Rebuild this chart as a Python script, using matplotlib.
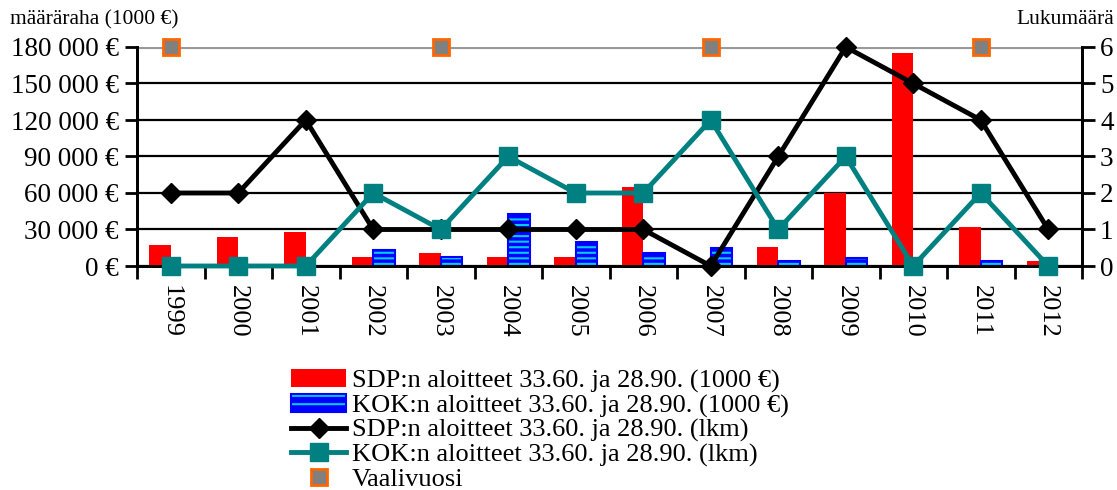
import matplotlib
matplotlib.use("Agg")
import matplotlib.pyplot as plt
import numpy as np
from matplotlib.ticker import FuncFormatter
from matplotlib.patches import Patch
from matplotlib.lines import Line2D
from matplotlib.legend_handler import HandlerTuple

plt.rcParams['font.family'] = ['Liberation Serif', 'DejaVu Serif']
plt.rcParams['hatch.linewidth'] = 1.5

years = ['1999', '2000', '2001', '2002', '2003', '2004', '2005', '2006',
         '2007', '2008', '2009', '2010', '2011', '2012']
sdp_eur = [17300, 24000, 28000, 7600, 10400, 7600, 7600, 65000,
           0, 15400, 60200, 174800, 32300, 4400]
kok_eur = [0, 0, 0, 13200, 7100, 42500, 20000, 10700,
           14800, 4400, 6300, 0, 4400, 0]
sdp_lkm = [2, 2, 4, 1, 1, 1, 1, 1, 0, 3, 6, 5, 4, 1]
kok_lkm = [0, 0, 0, 2, 1, 3, 2, 2, 4, 1, 3, 0, 2, 0]
vaali_years = ['1999', '2003', '2007', '2011']
vaali_val = [6, 6, 6, 6]

left_ticks = [0, 30000, 60000, 90000, 120000, 150000, 180000]
right_ticks = [0, 1, 2, 3, 4, 5, 6]

fig = plt.figure(figsize=(11.17, 4.90), dpi=100)
ax = fig.add_axes([137/1117, 1-266/490, (1082-137)/1117, (266-47)/490])
ax2 = ax.twinx()

x = np.arange(len(years))
w = 0.32
ax.set_zorder(1)
ax2.set_zorder(2)
ax2.patch.set_visible(False)

# gridlines
for t in left_ticks:
    ax.axhline(t, color='#999999' if t == 180000 else 'black',
               lw=3 if t == 180000 else 1.6, zorder=0.5)

ax.bar(x - w/2, sdp_eur, width=w, color='#ff0000', edgecolor='none', zorder=2)
kok_mask = [v > 0 for v in kok_eur]
xb = x[kok_mask] + w/2
kv = [v for v in kok_eur if v > 0]
ax.bar(xb, kv, width=w, color='#0000ff', edgecolor='#00ccff', hatch='---',
       linewidth=0, zorder=2)
ax.bar(xb, kv, width=w, facecolor='none', edgecolor='#0000ff', linewidth=1.5, zorder=2.1)

ax.set_xlim(-0.5, len(years) - 0.5)
ax.set_ylim(0, 180000)
ax.set_yticks(left_ticks)
ax.yaxis.set_major_formatter(FuncFormatter(lambda v, p: f"{int(v):,} €".replace(',', ' ')))
ax.set_xticks(x)
ax.set_xticklabels(years, rotation=270, fontsize=19)
ax.tick_params(axis='x', length=0, pad=14)
ax.set_xticks(np.arange(-0.5, len(years), 1.0), minor=True)
ax.tick_params(axis='x', which='minor', length=9, width=2, direction='out')
ax.tick_params(axis='y', labelsize=19.5, length=9, width=2, pad=4)

ax2.set_ylim(0, 6)
ax2.set_yticks(right_ticks)
ax2.tick_params(axis='y', labelsize=19.5, length=9, width=2, pad=4)

for a in (ax, ax2):
    a.spines['top'].set_visible(False)
    for s in ('left', 'right', 'bottom'):
        a.spines[s].set_linewidth(2)

xi = {y: i for i, y in enumerate(years)}
ax2.plot(x, sdp_lkm, color='black', lw=3.5, marker='D', ms=10, zorder=3, clip_on=False)
ax2.plot(x, kok_lkm, color='#008080', lw=3.5, marker='s', ms=13, zorder=3, clip_on=False)
ax2.plot([xi[v] for v in vaali_years], vaali_val, ls='none', marker='s', ms=11,
         markerfacecolor='#808080', markeredgecolor='#ff6600', markeredgewidth=2,
         zorder=4, clip_on=False)

fig.text(10/1117, 1-20/490, 'määräraha (1000 €)', fontsize=15.5, va='center', ha='left')
fig.text(1114/1117, 1-20/490, 'Lukumäärä', fontsize=15.5, va='center', ha='right')

handles = [
    Patch(facecolor='#ff0000', edgecolor='none'),
    (Patch(facecolor='#0000ff', edgecolor='#00ccff', hatch='--', linewidth=0),
     Patch(facecolor='none', edgecolor='#0000ff', linewidth=1.5)),
    Line2D([], [], color='black', lw=3.5, marker='D', ms=10),
    Line2D([], [], color='#008080', lw=3.5, marker='s', ms=13),
    Line2D([], [], ls='none', marker='s', ms=11, markerfacecolor='#808080',
           markeredgecolor='#ff6600', markeredgewidth=2),
]
labels = ['SDP:n aloitteet 33.60. ja 28.90. (1000 €)',
          'KOK:n aloitteet 33.60. ja 28.90. (1000 €)',
          'SDP:n aloitteet 33.60. ja 28.90. (lkm)',
          'KOK:n aloitteet 33.60. ja 28.90. (lkm)',
          'Vaalivuosi']
fig.legend(handles, labels, loc='upper left', bbox_to_anchor=(291/1117, 1-369/490),
           frameon=False, fontsize=19, handlelength=2.1, handletextpad=0.2,
           labelspacing=0.03, borderpad=0, borderaxespad=0,
           handler_map={tuple: HandlerTuple(ndivide=1)})

fig.savefig('out.png', dpi=100)
